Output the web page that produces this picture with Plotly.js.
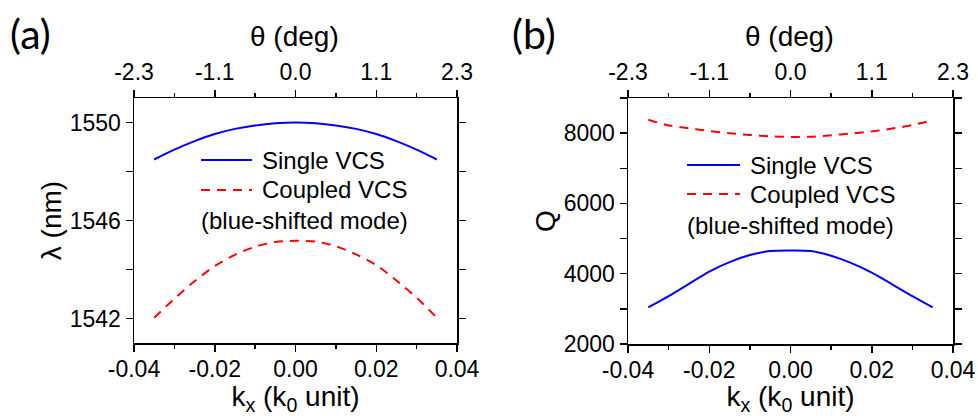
<!DOCTYPE html>
<html>
<head>
<meta charset="utf-8">
<script src="https://cdn.plot.ly/plotly-3.0.1.min.js"></script>
<style>html,body{margin:0;padding:0;background:#fff;}#chart{width:978px;height:416px;}</style>
</head>
<body>
<div id="chart"></div>
<script>
// wavevector (k0 unit)
const kx = [-0.035, -0.030, -0.025, -0.020, -0.015, -0.010, -0.005, 0.000, 0.005, 0.010, 0.015, 0.020, 0.025, 0.030, 0.035];
// (a) resonance wavelength (nm)
const lamSingle  = [1548.49, 1548.89, 1549.24, 1549.53, 1549.74, 1549.88, 1549.97, 1550.00, 1549.97, 1549.88, 1549.74, 1549.53, 1549.24, 1548.89, 1548.49];
const lamCoupled = [1542.03, 1542.81, 1543.52, 1544.14, 1544.60, 1544.93, 1545.12, 1545.17, 1545.14, 1544.95, 1544.62, 1544.18, 1543.55, 1542.85, 1542.03];
// (b) quality factor
const qSingle  = [3040, 3360, 3710, 4060, 4330, 4530, 4645, 4660, 4645, 4510, 4300, 4030, 3700, 3360, 3040];
const qCoupled = [8380, 8220, 8140, 8060, 7995, 7950, 7910, 7890, 7900, 7940, 7990, 8050, 8130, 8230, 8370];
// tick labels: bottom kx axis and top theta axis (deg) at the same kx positions
const kxTicks = [-0.04, -0.02, 0.00, 0.02, 0.04];
const kxTickText = ['-0.04', '-0.02', '0.00', '0.02', '0.04'];
const thetaTickText = ['-2.3', '-1.1', '0.0', '1.1', '2.3'];
const seriesNames = ['Single VCS', 'Coupled VCS'];
const noteText = '(blue-shifted mode)';
const kxTitle = 'k<sub>x</sub> (k<sub>0</sub> unit)';
const thetaTitle = 'θ (deg)';

const FONT = 'Liberation Sans, Arial, sans-serif';
const BLUE = '#0000ff', RED = '#ff0000';
const DASH = '9px,7px';

const traces = [
  {x: kx, y: lamSingle, xaxis: 'x', yaxis: 'y', mode: 'lines', name: seriesNames[0], line: {color: BLUE, width: 2, shape: 'spline', smoothing: 0.8}},
  {x: kx, y: lamCoupled, xaxis: 'x3', yaxis: 'y', mode: 'lines', name: seriesNames[1], line: {color: RED, width: 2, dash: DASH, shape: 'spline', smoothing: 0.8}},
  {x: kx, y: qSingle, xaxis: 'x2', yaxis: 'y2', mode: 'lines', name: seriesNames[0], line: {color: BLUE, width: 2, shape: 'spline', smoothing: 0.8}},
  {x: kx, y: qCoupled, xaxis: 'x4', yaxis: 'y2', mode: 'lines', name: seriesNames[1], line: {color: RED, width: 2, dash: DASH, shape: 'spline', smoothing: 0.8}}
];

const tickFont = {family: FONT, size: 23, color: '#000'};
const titleFont = {family: FONT, size: 28, color: '#000'};
const minorX = {tickmode: 'linear', tick0: 0, dtick: 0.01, ticks: 'outside', ticklen: 4, tickwidth: 1.5, tickcolor: '#000'};

function xBottom(domain, anchor) {
  return {
    domain: domain, anchor: anchor, range: [-0.04, 0.04],
    tickmode: 'array', tickvals: kxTicks, ticktext: kxTickText,
    ticks: 'outside', ticklen: 7, tickwidth: 1.5, tickcolor: '#000',
    ticklabelstandoff: -2,
    minor: minorX,
    showline: true, linecolor: '#000', linewidth: 1.5, mirror: false,
    showgrid: false, zeroline: false, automargin: false,
    tickfont: tickFont,
    title: {text: kxTitle, font: titleFont, standoff: 0}
  };
}
function xTop(overlay, anchor) {
  return {
    overlaying: overlay, anchor: anchor, side: 'top', range: [-0.04, 0.04],
    tickmode: 'array', tickvals: kxTicks, ticktext: thetaTickText,
    ticks: 'outside', ticklen: 7, tickwidth: 1.5, tickcolor: '#000',
    minor: minorX,
    showline: true, linecolor: '#000', linewidth: 1.5,
    showgrid: false, zeroline: false, automargin: false,
    tickfont: tickFont
  };
}
function yAxis(domain, anchor, range, tick0, dtick, minorDtick, title) {
  return {
    domain: domain, anchor: anchor, range: range,
    tickmode: 'linear', tick0: tick0, dtick: dtick,
    ticks: 'outside', ticklen: 7, tickwidth: 1.5, tickcolor: '#000',
    minor: {tickmode: 'linear', tick0: tick0, dtick: minorDtick, ticks: 'outside', ticklen: 4, tickwidth: 1.5, tickcolor: '#000'},
    showline: true, linecolor: '#000', linewidth: 1.5, mirror: 'allticks',
    showgrid: false, zeroline: false, automargin: false,
    tickfont: tickFont,
    title: {text: title, font: titleFont, standoff: 0}
  };
}

const W = 978, H = 416;
const px = v => v / W, py = v => 1 - v / H;

const legendSpecs = [
  {x0: 201, x1: 252, y1: 160, y2: 190, y3: 220.5, tx: 260},
  {x0: 687, x1: 740, y1: 165, y2: 194, y3: 225.5, tx: 748}
];
const shapes = [], annotations = [];
const legFont = {family: FONT, size: 24, color: '#000'};
legendSpecs.forEach(s => {
  shapes.push({type: 'line', xref: 'paper', yref: 'paper', x0: px(s.x0), x1: px(s.x1), y0: py(s.y1), y1: py(s.y1), line: {color: BLUE, width: 2}});
  shapes.push({type: 'line', xref: 'paper', yref: 'paper', x0: px(s.x0), x1: px(s.x1), y0: py(s.y2), y1: py(s.y2), line: {color: RED, width: 2, dash: DASH}});
  annotations.push({xref: 'paper', yref: 'paper', x: px(s.tx), y: py(s.y1), xanchor: 'left', yanchor: 'middle', text: seriesNames[0], showarrow: false, font: legFont});
  annotations.push({xref: 'paper', yref: 'paper', x: px(s.tx), y: py(s.y2), xanchor: 'left', yanchor: 'middle', text: seriesNames[1], showarrow: false, font: legFont});
  annotations.push({xref: 'paper', yref: 'paper', x: px(s.x0 - 2), y: py(s.y3), xanchor: 'left', yanchor: 'middle', text: noteText, showarrow: false, font: legFont});
});
// top theta-axis titles for both panels
['x3', 'x4'].forEach(xt => {
  annotations.push({xref: xt + ' domain', yref: 'paper', x: 0.497, y: py(36), xanchor: 'center', yanchor: 'middle', text: thetaTitle, showarrow: false, font: titleFont});
});
const panelFont = {family: 'Lato, Open Sans, sans-serif', size: 41, color: '#000'};
annotations.push({xref: 'paper', yref: 'paper', x: px(8), y: py(33), xanchor: 'left', yanchor: 'middle', text: '(a)', showarrow: false, font: panelFont});
annotations.push({xref: 'paper', yref: 'paper', x: px(510), y: py(33), xanchor: 'left', yanchor: 'middle', text: '(b)', showarrow: false, font: panelFont});

const layout = {
  width: W, height: H,
  margin: {l: 0, r: 0, t: 0, b: 0, pad: 0},
  paper_bgcolor: '#fff', plot_bgcolor: '#fff',
  showlegend: false,
  font: {family: FONT, color: '#000'},
  xaxis: xBottom([px(134), px(457)], 'y'),
  xaxis2: xBottom([px(628), px(953)], 'y2'),
  xaxis3: xTop('x', 'y'),
  xaxis4: xTop('x2', 'y2'),
  yaxis: yAxis([py(343), py(98)], 'x', [1541, 1551], 1542, 4, 2, 'λ (nm)'),
  yaxis2: yAxis([py(344), py(98)], 'x2', [2000, 9000], 2000, 2000, 1000, 'Q'),
  shapes: shapes,
  annotations: annotations
};

Plotly.newPlot('chart', traces, layout, {staticPlot: true, displayModeBar: false});
</script>
</body>
</html>
